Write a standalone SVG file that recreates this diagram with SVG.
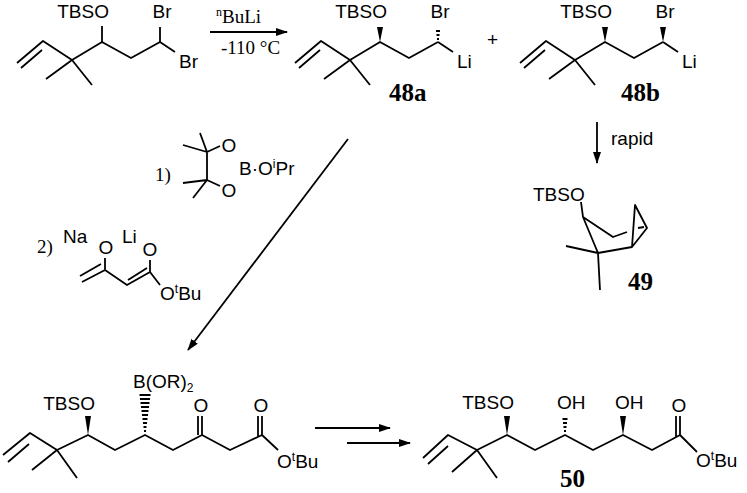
<svg xmlns="http://www.w3.org/2000/svg" width="747" height="493" viewBox="0 0 747 493">
<defs>
<style>
.b{fill:none;stroke:#000;stroke-width:1.8;stroke-linejoin:round}
.s{font-family:"Liberation Sans",Arial,sans-serif;font-size:19px;fill:#000}
.m{text-anchor:middle}
.e{text-anchor:end}
.r{font-family:"Liberation Serif","Times New Roman",serif;font-size:19px;fill:#000}
.l{font-family:"Liberation Serif","Times New Roman",serif;font-size:25px;font-weight:bold;fill:#000}
.sup{font-size:12px}
</style>
<marker id="ah" markerWidth="12" markerHeight="8" refX="11" refY="4" orient="auto" markerUnits="userSpaceOnUse"><path d="M0,0 L12,4 L0,8 Z" fill="#000"/></marker>
<g id="chain">
<path class="b" d="M17,63 L43,41 L72,60 L102,42 L131,58 L160,42 M21,68 L42,50 M72,60 L46,79 M72,60 L92,85"/>
</g>
</defs>
<g id="sm">
<use href="#chain"/>
<path class="b" d="M102,42 L102,26 M160,42 L160,27 M160,42 L175,52"/>
<text class="s e" x="109" y="18">TBSO</text>
<text class="s m" x="162" y="18">Br</text>
<text class="s" x="179" y="68">Br</text>
</g>
<g id="p48a">
<use href="#chain" transform="translate(278,0)"/>
<polygon points="380,42 377,27 383,27" fill="#000"/>
<path class="b" stroke-width="1.2" d="M437,39 h2 M436.5,35 h3 M436,31 h4"/>
<path class="b" d="M438,42 L453,52"/>
<text class="s e" x="387" y="18">TBSO</text>
<text class="s m" x="440" y="18">Br</text>
<text class="s" x="457" y="68">Li</text>
<text class="l" x="389" y="101">48a</text>
</g>
<text class="s" x="487" y="46">+</text>
<g id="p48b">
<use href="#chain" transform="translate(503,0)"/>
<polygon points="605,42 602,27 608,27" fill="#000"/>
<polygon points="663,42 660,27 666,27" fill="#000"/>
<path class="b" d="M663,42 L678,52"/>
<text class="s e" x="612" y="18">TBSO</text>
<text class="s m" x="665" y="18">Br</text>
<text class="s" x="682" y="68">Li</text>
<text class="l" x="621" y="101">48b</text>
</g>
<g id="p49">
<path class="b" d="M581,202 L583,217 L613,237 L627,232 M583,217 L598,253 L632,247 L647,228 L635,205 L632,247 M598,253 L566,246 M598,253 L600,290 M638,228 L644,227"/>
<text class="s" x="533" y="201">TBSO</text>
<text class="l" x="628" y="290">49</text>
</g>
<g id="reagent1">
<text class="r" x="155" y="181">1)</text>
<path class="b" d="M207,152 L207,180 M207,152 L183,145 M207,152 L200,133 M207,180 L183,183 M207,180 L193,198 M207,152 L220,146 M207,180 L220,186"/>
<text class="s m" x="229" y="152">O</text>
<text class="s m" x="229" y="197">O</text>
<text class="s" x="239" y="175">B·O<tspan class="sup" dy="-7">i</tspan><tspan dy="7">Pr</tspan></text>
</g>
<g id="reagent2">
<text class="r" x="37" y="253">2)</text>
<text class="s" x="63" y="243">Na</text>
<text class="s m" x="106" y="254">O</text>
<text class="s" x="122" y="243">Li</text>
<text class="s m" x="150" y="256">O</text>
<path class="b" d="M105,258 L105,270 L82,282 M105,270 L127,285 L150,272 L150,260 M150,272 L160,285 M101,264 L80,276 M128,280 L147,268"/>
<text class="s" x="160" y="300">O<tspan class="sup" dy="-7">t</tspan><tspan dy="7">Bu</tspan></text>
</g>
<g id="int">
<path class="b" d="M3,455 L30,433 L57,450 L88,435 L115,450 L145,435 L173,450 L202,435 L230,450 L262,435 L278,450 M8,462 L29,444 M57,450 L32,470 M57,450 L77,478 M202,435 L202,416 M198,435 L198,416 M262,435 L262,416 M258,437 L258,416"/>
<polygon points="88,435 85,416 91,416" fill="#000"/>
<path class="b" stroke-width="1.2" d="M144,431 h2 M143.5,427 h3 M143,423 h4 M142.5,419 h5 M142,415 h6 M141.5,411 h7 M141,407 h8 M140.5,403 h9 M140,399 h10 M139.5,395 h11"/>
<text class="s e" x="95" y="410">TBSO</text>
<text class="s" x="133" y="388">B(OR)<tspan class="sup" dy="4">2</tspan></text>
<text class="s m" x="201" y="412">O</text>
<text class="s m" x="261" y="412">O</text>
<text class="s" x="277" y="468">O<tspan class="sup" dy="-7">t</tspan><tspan dy="7">Bu</tspan></text>
</g>
<g id="p50">
<path class="b" d="M423,458 L448,435 L477,450 L507,435 L535,450 L565,435 L593,450 L623,435 L652,450 L680,435 L697,452 M428,464 L448,446 M477,450 L452,472 M477,450 L497,478 M680,435 L680,416 M676,437 L676,416"/>
<polygon points="507,435 504,416 510,416" fill="#000"/>
<polygon points="623,435 620,416 626,416" fill="#000"/>
<path class="b" stroke-width="1.2" d="M564,431 h2 M563.5,427 h3 M563,423 h4 M562.5,419 h5"/>
<text class="s e" x="514" y="409">TBSO</text>
<text class="s" x="557" y="409">OH</text>
<text class="s" x="615" y="409">OH</text>
<text class="s m" x="679" y="412">O</text>
<text class="s" x="696" y="467">O<tspan class="sup" dy="-7">t</tspan><tspan dy="7">Bu</tspan></text>
<text class="l" x="560" y="487">50</text>
</g>
<g id="connectors">
<path class="b" d="M210,32 L287,32" marker-end="url(#ah)"/>
<text class="r" x="216" y="23"><tspan class="sup" dy="-7">n</tspan><tspan dy="7">BuLi</tspan></text>
<text class="r" x="221" y="54">-110 °C</text>
<path class="b" d="M597,122 L597,163" marker-end="url(#ah)"/>
<text class="s" x="611" y="145">rapid</text>
<path class="b" d="M348,139 L188,350" marker-end="url(#ah)"/>
<path class="b" d="M315,428 L390,428" marker-end="url(#ah)"/>
<path class="b" d="M347,443 L410,443" marker-end="url(#ah)"/>
</g>
</svg>
